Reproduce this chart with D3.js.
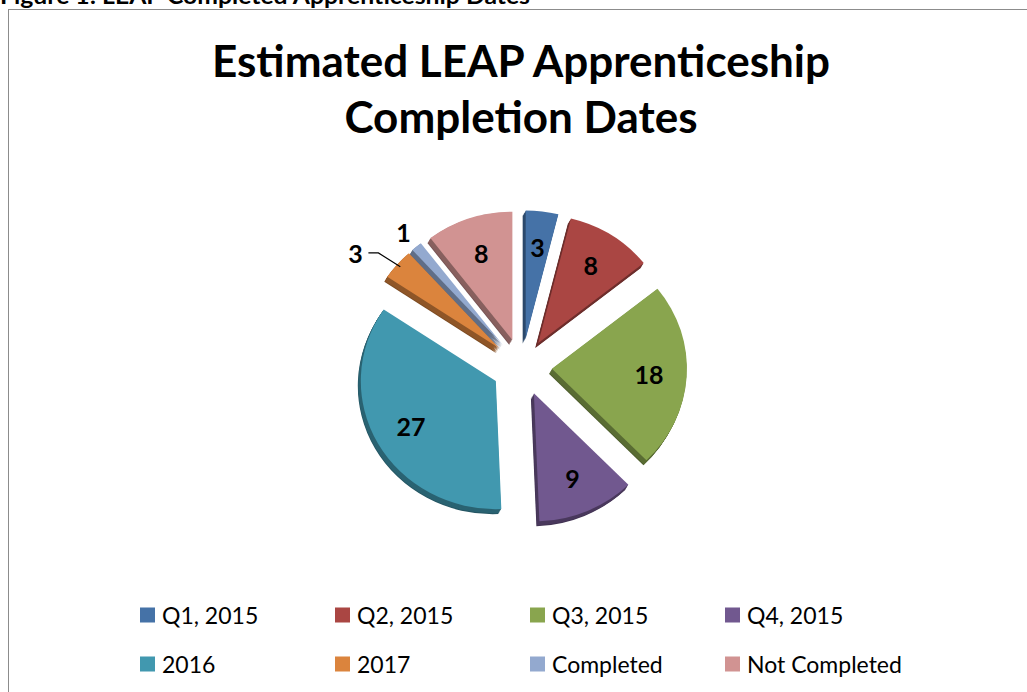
<!DOCTYPE html>
<html>
<head>
<meta charset="utf-8">
<script src="https://cdn.jsdelivr.net/npm/d3@7"></script>
<style>
  body { margin: 0; background: #fff; }
  svg { display: block; font-family: Lato, "Open Sans", sans-serif; }
</style>
</head>
<body>
<div id="chart"></div>
<script>
// Estimated LEAP Apprenticeship Completion Dates - exploded 3D-ish pie

const categories = ["Q1, 2015", "Q2, 2015", "Q3, 2015", "Q4, 2015", "2016", "2017", "Completed", "Not Completed"];
const counts = [3, 8, 18, 9, 27, 3, 1, 8];
const colors = ["#4572A7", "#AA4643", "#89A54E", "#71588F", "#4198AF", "#DB843D", "#93A9CF", "#D19392"];

const width = 1027;
const height = 692;
const cx = 522, cy = 367;
const radius = 135;
const squash = 0.95;   // slight tilt of the pie
const explode = 30;
const depth = { dx: -3, dy: 5 };

const svg = d3.select("#chart")
    .append("svg")
    .attr("width", width)
    .attr("height", height);

// caption above the chart box (mostly cut off)
svg.append("text")
    .attr("x", 0)
    .attr("y", 4)
    .attr("font-size", 23)
    .attr("font-weight", "bold")
    .attr("textLength", 530)
    .attr("lengthAdjust", "spacingAndGlyphs")
    .text("Figure 1: LEAP  Completed Apprenticeship Dates");

// chart frame
svg.append("rect")
    .attr("x", 8.5)
    .attr("y", 9.5)
    .attr("width", 1100)
    .attr("height", 800)
    .attr("fill", "none")
    .attr("stroke", "#8c8c8c");

// title
const title = svg.append("text")
    .attr("text-anchor", "middle")
    .attr("font-size", 44)
    .attr("font-weight", "bold");
title.append("tspan").attr("x", 521).attr("y", 77).text("Estimated LEAP Apprenticeship");
title.append("tspan").attr("x", 521).attr("y", 133).text("Completion Dates");

const data = categories.map((c, i) => ({ name: c, value: counts[i], color: colors[i] }));

const pie = d3.pie().sort(null).value(d => d.value);
const arcs = pie(data);

const arc = d3.arc().innerRadius(0).outerRadius(radius);

// screen position of a point on a slice at distance r from its (exploded) apex
function pointAt(a, angle, r) {
    const mid = (a.startAngle + a.endAngle) / 2;
    const ex = Math.sin(mid) * explode, ey = -Math.cos(mid) * explode;
    return [cx + ex + Math.sin(angle) * r, cy + (ey - Math.cos(angle) * r) * squash];
}

function sliceTransform(a, dx, dy) {
    const mid = (a.startAngle + a.endAngle) / 2;
    const ex = Math.sin(mid) * explode, ey = -Math.cos(mid) * explode;
    return `translate(${cx + dx},${cy + dy}) scale(1,${squash}) translate(${ex},${ey})`;
}

const pieG = svg.append("g");

// side walls (extrusion)
const steps = 6;
arcs.forEach(a => {
    for (let k = steps; k >= 1; k--) {
        pieG.append("path")
            .attr("d", arc(a))
            .attr("transform", sliceTransform(a, depth.dx * k / steps, depth.dy * k / steps))
            .attr("fill", d3.color(a.data.color).darker(k === steps ? 1.6 : 1.2));
    }
});

// top faces
arcs.forEach(a => {
    pieG.append("path")
        .attr("d", arc(a))
        .attr("transform", sliceTransform(a, 0, 0))
        .attr("fill", a.data.color);
});

// data labels
const insideRatio = 0.72;
// small slices get their label outside: [radius ratio, angle shift in degrees, leader line]
const outside = { "2017": [1.3, -6, true], "Completed": [1.15, 0, false] };

const labelG = svg.append("g")
    .attr("font-size", 25)
    .attr("font-weight", "bold")
    .attr("text-anchor", "middle")
    .attr("dominant-baseline", "central");

arcs.forEach(a => {
    const mid = (a.startAngle + a.endAngle) / 2;
    const o = outside[a.data.name];
    let p;
    if (o) {
        p = pointAt(a, mid + o[1] * Math.PI / 180, radius * o[0]);
        if (o[2]) {
            const edge = pointAt(a, mid, radius - 4);
            svg.append("polyline")
                .attr("points", [[p[0] + 13, p[1]], [p[0] + 23, p[1]], edge].join(" "))
                .attr("fill", "none")
                .attr("stroke", "#000")
                .attr("stroke-width", 1.2);
        }
    } else {
        p = pointAt(a, mid, radius * insideRatio);
    }
    labelG.append("text")
        .attr("x", p[0])
        .attr("y", p[1])
        .text(a.data.value);
});

// legend
const legendCols = [140, 335, 530, 725];
const legendRows = [615, 664];
const legend = svg.append("g").attr("font-size", 23);
data.forEach((d, i) => {
    const x = legendCols[i % 4], y = legendRows[Math.floor(i / 4)];
    legend.append("rect")
        .attr("x", x).attr("y", y - 7.5)
        .attr("width", 15).attr("height", 15)
        .attr("fill", d.color);
    legend.append("text")
        .attr("x", x + 22)
        .attr("y", y)
        .attr("dominant-baseline", "central")
        .text(d.name);
});
</script>
</body>
</html>
